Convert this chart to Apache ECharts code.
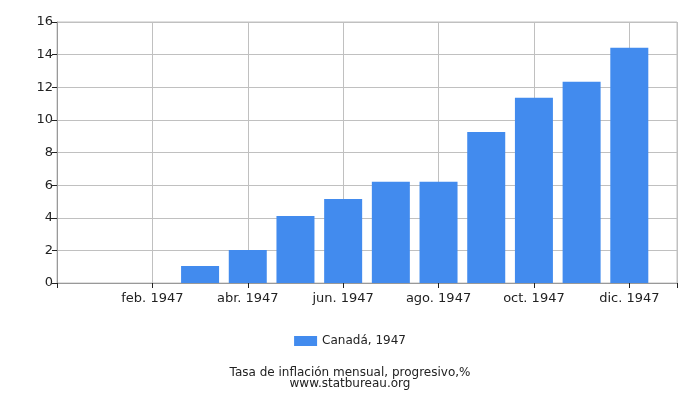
<!DOCTYPE html>
<html>
<head>
<meta charset="utf-8">
<script src="https://cdn.jsdelivr.net/npm/echarts@6/dist/echarts.min.js"></script>
<style>
html, body { margin: 0; padding: 0; background: #fff; }
#chartDiv { width: 700px; height: 400px; }
</style>
</head>
<body>
<div id="chartDiv"></div>
<script>
var meses = ['ene. 1947', 'feb. 1947', 'mar. 1947', 'abr. 1947', 'may. 1947', 'jun. 1947',
             'jul. 1947', 'ago. 1947', 'sep. 1947', 'oct. 1947', 'nov. 1947', 'dic. 1947'];
var valores = [0, 0, 1.04, 2.02, 4.11, 5.15, 6.2, 6.2, 9.26, 11.35, 12.33, 14.42];
var nombreSerie = 'Canadá, 1947';
var titulo = 'Tasa de inflación mensual, progresivo,%';
var fuente = 'www.statbureau.org';

var chartDiv;

// cada mes en la posición 1..12 de un eje 0..13 (hueco a cada lado, como en el original)
var datos = valores.map(function (v, i) { return [i + 1, v]; });

chartDiv = echarts.init(document.getElementById('chartDiv'));
var fuenteTxt = 'DejaVu Sans';
var option = {
    animation: false,
    textStyle: { fontFamily: fuenteTxt },
    grid: {
        left: 57, right: 23, top: 22, bottom: 117,
        show: true, borderColor: '#c0c0c0', borderWidth: 1
    },
    legend: {
        top: 330,
        left: 'center',
        itemWidth: 23,
        itemHeight: 10,
        itemGap: 4,
        icon: 'rect',
        textStyle: { fontFamily: fuenteTxt, fontSize: 12, color: '#222' },
        data: [nombreSerie]
    },
    title: {
        text: titulo + '\n' + fuente,
        left: 'center',
        top: 362,
        textStyle: { fontFamily: fuenteTxt, fontSize: 12, fontWeight: 'normal', color: '#222', lineHeight: 11 }
    },
    xAxis: {
        type: 'value',
        min: 0, max: 13, interval: 2,
        axisLine: { show: true, onZero: false, lineStyle: { color: '#999', width: 1 } },
        axisTick: { show: true, length: 5, lineStyle: { color: '#222', width: 1 } },
        axisLabel: {
            margin: 9, fontSize: 13, color: '#222', fontFamily: fuenteTxt,
            formatter: function (v) { return meses[v - 1] || ''; }
        },
        splitLine: { show: true, lineStyle: { color: '#c0c0c0' } }
    },
    yAxis: {
        type: 'value',
        min: 0, max: 16, interval: 2,
        axisLine: { show: true, lineStyle: { color: '#999' } },
        axisTick: { show: true, length: 5, lineStyle: { color: '#222' } },
        axisLabel: { margin: 4, fontSize: 13, color: '#222', fontFamily: fuenteTxt },
        splitLine: { lineStyle: { color: '#c0c0c0' } }
    },
    series: [
        {
            type: 'bar',
            name: nombreSerie,
            data: datos,
            barWidth: 38,
            itemStyle: { color: '#428bee' }
        }
    ]
};
chartDiv.setOption(option);
</script>
</body>
</html>
